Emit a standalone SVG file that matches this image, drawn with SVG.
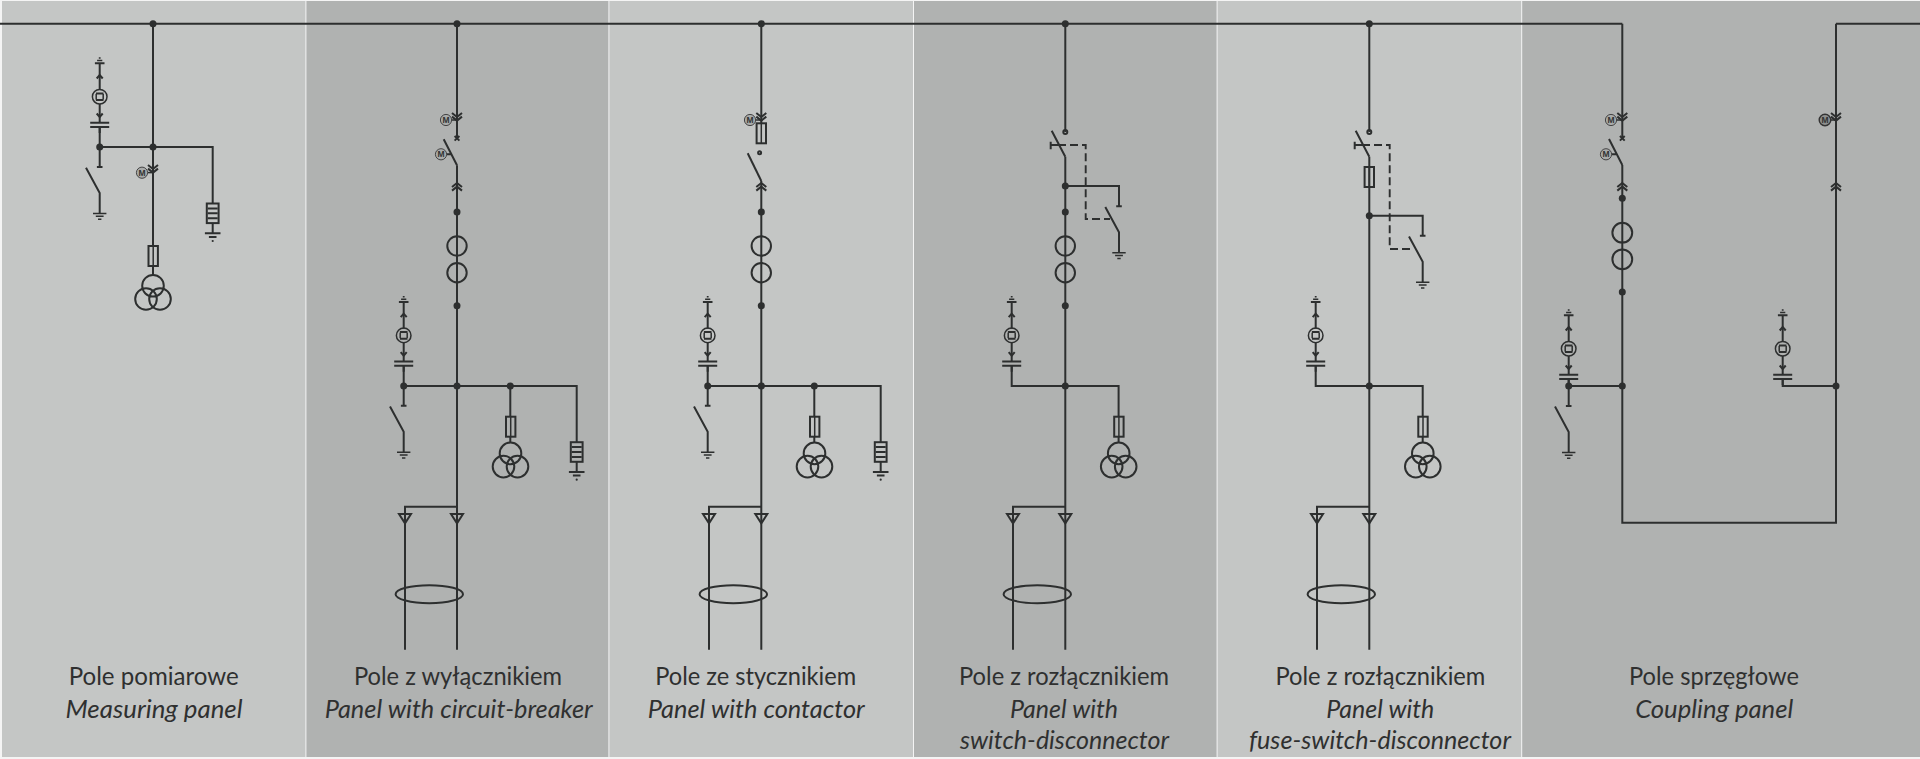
<svg xmlns="http://www.w3.org/2000/svg" width="1920" height="759" viewBox="0 0 1920 759">
<style>
.w{fill:none;stroke:#2d2f2f;stroke-width:2}
.t{fill:none;stroke:#2d2f2f;stroke-width:1.5}
.d{fill:#2d2f2f}
.dash{fill:none;stroke:#2d2f2f;stroke-width:1.9;stroke-dasharray:8 4}
.lbl{font-family:Lato,"Liberation Sans",sans-serif;font-size:24.5px;fill:#2f3030;text-anchor:middle}
.en{font-style:italic}
.m{font-family:"Liberation Sans",sans-serif;font-size:8.5px;font-weight:700;fill:#333;text-anchor:middle}
.ma{fill:#a9abaa;stroke:#444;stroke-width:1}
</style>
<defs>
<circle id="dot" class="d" r="3.5"/>
<g id="gnd" class="t"><path d="M-6.7 0H6.7M-3.9 2.8H3.9M-1.7 5.8H1.7"/></g>
<g id="indicator">
<path class="w" d="M0-63.7V-37M0-23V-4.3M0 0V6"/>
<path class="w" d="M-9.5-4.3H9.5M-9.5 0H9.5M-4.8-63.7H4.8"/>
<path class="t" d="M-2.6-66.4H2.6M-0.9-69H0.9"/>
<circle class="t" cy="-30.3" r="7.3"/>
<path class="w" d="M-3.8-33.6H3.8M-3.8-27H3.8"/>
<path class="t" d="M-3.5-33V-27.6M3.5-33V-27.6"/>
<path class="w" d="M-3-48.5 0-52 3-48.5M-3-13.5 0-10 3-13.5"/>
</g>
<g id="earth-switch">
<path class="w" d="M-2.8 0H2.8M-13.7 0.7 0 26V46.5"/>
<use href="#gnd" y="46.5"/>
</g>
<g id="arrester">
<rect class="w" x="-5.9" width="11.8" height="19.6"/>
<path class="w" d="M-5 4.9H5M-5 9.8H5M-5 14.7H5M0 19.6V29.7M-7.8 29.7H7.8M-3.8 33.4H3.8"/>
<circle class="d" cy="37.5" r="1.1"/>
</g>
<g id="transformer">
<circle class="w" cy="10.8" r="10.8"/>
<circle class="w" cx="-7" cy="24" r="10.8"/>
<circle class="w" cx="7" cy="24" r="10.8"/>
</g>
<g id="fuse"><rect class="w" x="-4.7" width="9.4" height="20"/><path class="t" d="M0 0V20"/></g>
<path id="chev-d" class="w" d="M-5 113 0 117 5 113M-5 116.6 0 120.6 5 116.6"/>
<path id="chev-u" class="w" d="M-5 187 0 183 5 187M-5 190.6 0 186.6 5 190.6"/>
<path id="cross" class="w" d="M-2.4 136 2.4 140.6M2.4 136-2.4 140.6"/>
<g id="motor"><circle class="ma" r="5.6"/><text class="m" y="3">M</text></g>
<g id="ct"><circle class="w" cy="246" r="9.7"/><circle class="w" cy="272.7" r="9.7"/></g>
<g id="cable-end"><path class="w" d="M-6 514H6L0 523.4Z"/></g>
<g id="load-break"><path class="w" d="M-13.6 130.7 0 156.7M-14.6 141.7V149.3"/><path class="w" d="M-14.6 145H-7"/><circle class="w" cy="132" r="2"/></g>
</defs>

<g id="background">
<rect width="1920" height="759" fill="#f4f4f4"/>
<rect x="2" y="1" width="303.4" height="756" fill="#c4c6c5"/>
<rect x="306.4" y="1" width="302" height="756" fill="#b0b2b1"/>
<rect x="609.4" y="1" width="303.6" height="756" fill="#c4c6c5"/>
<rect x="914" y="1" width="302.6" height="756" fill="#b0b2b1"/>
<rect x="1217.6" y="1" width="303.6" height="756" fill="#c4c6c5"/>
<rect x="1522.2" y="1" width="397.8" height="756" fill="#b0b2b1"/>
</g>

<g id="connectors">
<path class="w" d="M0 23.7H1622.3M1836 23.7H1920"/>
<path class="w" d="M153 23.7V245.7M153 266V275M99.7 147H212.7V203.5M99.7 127V167"/>
<path class="w" d="M457 23.7V138.3M457 165.3V649.7M403.7 386H576.7V442.2M403.7 365.7V405.7M510.3 386V416.7M510.3 436V442.6M457 506.7H405V649.7"/>
<path class="w" d="M761.3 23.7V123.3M761.3 181V649.7M707.7 386H880.7V442.2M707.7 365.7V405.7M814.3 386V416.7M814.3 436V442.6M761.3 506.7H709V649.7"/>
<path class="w" d="M1065.3 23.7V132M1065.3 156.7V649.7M1065.3 186H1119V206.3M1011.7 365.7V386H1118.6V416.7M1118.6 436V442.6M1065.3 506.7H1013V649.7"/>
<path class="dash" d="M1058 145H1085.7V219H1110"/>
<path class="w" d="M1369.3 23.7V132M1369.3 156.7V649.7M1369.3 215.7H1422.7V235.7M1315.7 365.7V386H1422.7V416.7M1422.7 436V442.6M1369.3 506.7H1317V649.7"/>
<path class="dash" d="M1362 145H1389.7V249H1414"/>
<path class="w" d="M1622.3 23.7V138.3M1622.3 165V522.7H1836V23.7M1568.7 379V405.9M1568.7 386H1622.3M1782.7 379V386H1836"/>
</g>

<g id="panel-1">
<use href="#dot" x="153" y="23.7"/><use href="#dot" x="153" y="147"/><use href="#dot" x="99.7" y="147"/>
<use href="#indicator" x="99.7" y="127"/>
<use href="#earth-switch" x="99.7" y="167"/>
<use href="#arrester" x="212.7" y="203.5"/>
<use href="#chev-d" x="153" y="52"/>
<path class="t" d="M147.6 172.6H153"/>
<use href="#motor" x="142" y="172.7"/>
<use href="#fuse" x="153.2" y="246"/>
<use href="#transformer" x="153" y="275"/>
<text class="lbl" x="153.7" y="685" textLength="170" lengthAdjust="spacingAndGlyphs">Pole pomiarowe</text>
<text class="lbl en" x="154" y="717.5" textLength="177" lengthAdjust="spacingAndGlyphs">Measuring panel</text>
</g>

<g id="panel-2">
<use href="#dot" x="457" y="23.7"/><use href="#dot" x="457" y="212"/><use href="#dot" x="457" y="305.7"/>
<use href="#dot" x="403.7" y="386"/><use href="#dot" x="457" y="386"/><use href="#dot" x="510.3" y="386"/>
<use href="#chev-d" x="457"/><use href="#cross" x="457"/><use href="#chev-u" x="457"/>
<path class="w" d="M443.7 139.3 457 165.3M446 154.3H452"/>
<path class="t" d="M451.6 120H457"/>
<use href="#motor" x="446" y="120"/><use href="#motor" x="441" y="154.3"/>
<use href="#ct" x="457"/>
<use href="#indicator" x="403.7" y="365.7"/>
<use href="#earth-switch" x="403.7" y="405.7"/>
<use href="#fuse" x="510.7" y="416.7"/>
<use href="#transformer" x="510.5" y="442.6"/>
<use href="#arrester" x="576.7" y="442.2"/>
<use href="#cable-end" x="405"/><use href="#cable-end" x="457"/>
<ellipse class="w" cx="429.3" cy="594.2" rx="33.7" ry="9"/>
<text class="lbl" x="458" y="685" textLength="208" lengthAdjust="spacingAndGlyphs">Pole z wyłącznikiem</text>
<text class="lbl en" x="458.7" y="717.5" textLength="268" lengthAdjust="spacingAndGlyphs">Panel with circuit-breaker</text>
</g>

<g id="panel-3">
<use href="#dot" x="761.3" y="23.7"/><use href="#dot" x="761.3" y="212"/><use href="#dot" x="761.3" y="305.7"/>
<use href="#dot" x="707.7" y="386"/><use href="#dot" x="761.3" y="386"/><use href="#dot" x="814.3" y="386"/>
<use href="#chev-d" x="761.3"/><use href="#chev-u" x="761.3"/>
<path class="t" d="M755.6 120H761.3"/>
<use href="#motor" x="750" y="120"/>
<use href="#fuse" x="761.3" y="123.3"/>
<circle class="w" cx="759.6" cy="152.7" r="1.5"/>
<path class="w" d="M747.7 153.3 761.3 181"/>
<use href="#ct" x="761.3"/>
<use href="#indicator" x="707.7" y="365.7"/>
<use href="#earth-switch" x="707.7" y="405.7"/>
<use href="#fuse" x="814.7" y="416.7"/>
<use href="#transformer" x="814.5" y="442.6"/>
<use href="#arrester" x="880.7" y="442.2"/>
<use href="#cable-end" x="709"/><use href="#cable-end" x="761.3"/>
<ellipse class="w" cx="733.3" cy="594.2" rx="33.7" ry="9"/>
<text class="lbl" x="755.7" y="685" textLength="201" lengthAdjust="spacingAndGlyphs">Pole ze stycznikiem</text>
<text class="lbl en" x="756.3" y="717.5" textLength="217" lengthAdjust="spacingAndGlyphs">Panel with contactor</text>
</g>

<g id="panel-4">
<use href="#dot" x="1065.3" y="23.7"/><use href="#dot" x="1065.3" y="186"/><use href="#dot" x="1065.3" y="212"/><use href="#dot" x="1065.3" y="305.7"/><use href="#dot" x="1065.3" y="386"/>
<use href="#load-break" x="1065.3"/>
<use href="#ct" x="1065.3"/>
<use href="#earth-switch" x="1119" y="206.3"/>
<use href="#indicator" x="1011.7" y="365.7"/>
<use href="#fuse" x="1118.9" y="416.7"/>
<use href="#transformer" x="1118.7" y="442.6"/>
<use href="#cable-end" x="1013"/><use href="#cable-end" x="1065.3"/>
<ellipse class="w" cx="1037.3" cy="594.2" rx="33.7" ry="9"/>
<text class="lbl" x="1064" y="685" textLength="210" lengthAdjust="spacingAndGlyphs">Pole z rozłącznikiem</text>
<text class="lbl en" x="1064" y="717.5" textLength="108" lengthAdjust="spacingAndGlyphs">Panel with</text>
<text class="lbl en" x="1064.5" y="749" textLength="209" lengthAdjust="spacingAndGlyphs">switch-disconnector</text>
</g>

<g id="panel-5">
<use href="#dot" x="1369.3" y="23.7"/><use href="#dot" x="1369.3" y="215.7"/><use href="#dot" x="1369.3" y="386"/>
<use href="#load-break" x="1369.3"/>
<use href="#fuse" x="1369.3" y="167"/>
<use href="#earth-switch" x="1422.7" y="235.7"/>
<use href="#indicator" x="1315.7" y="365.7"/>
<use href="#fuse" x="1423" y="416.7"/>
<use href="#transformer" x="1422.8" y="442.6"/>
<use href="#cable-end" x="1317"/><use href="#cable-end" x="1369.3"/>
<ellipse class="w" cx="1341.3" cy="594.2" rx="33.7" ry="9"/>
<text class="lbl" x="1380.4" y="685" textLength="210" lengthAdjust="spacingAndGlyphs">Pole z rozłącznikiem</text>
<text class="lbl en" x="1380.3" y="717.5" textLength="108" lengthAdjust="spacingAndGlyphs">Panel with</text>
<text class="lbl en" x="1380" y="749" textLength="262" lengthAdjust="spacingAndGlyphs">fuse-switch-disconnector</text>
</g>

<g id="panel-6">
<use href="#chev-d" x="1622.3"/><use href="#cross" x="1622.3"/><use href="#chev-u" x="1622.3"/>
<path class="w" d="M1609 139 1622.3 165M1610 154.3H1616"/>
<path class="t" d="M1616.6 120H1622.3"/>
<use href="#motor" x="1611" y="120"/><use href="#motor" x="1606" y="154.3"/>
<use href="#dot" x="1622.3" y="198.3"/><use href="#dot" x="1622.3" y="292"/>
<circle class="w" cx="1622.3" cy="232.7" r="9.9"/><circle class="w" cx="1622.3" cy="259.3" r="9.9"/>
<use href="#dot" x="1568.7" y="386"/><use href="#dot" x="1622.3" y="386"/><use href="#dot" x="1836" y="386"/>
<use href="#indicator" x="1568.7" y="379"/>
<use href="#earth-switch" x="1568.7" y="405.9"/>
<use href="#indicator" x="1782.7" y="379"/>
<use href="#chev-d" x="1836"/><use href="#chev-u" x="1836"/>
<path class="t" d="M1830 120H1836"/>
<circle cx="1825" cy="120" r="5.8" fill="#8d8f8e" stroke="#333" stroke-width="1.4"/><text class="m" x="1825" y="123">M</text>
<text class="lbl" x="1714" y="685" textLength="170" lengthAdjust="spacingAndGlyphs">Pole sprzęgłowe</text>
<text class="lbl en" x="1714.2" y="717.5" textLength="158" lengthAdjust="spacingAndGlyphs">Coupling panel</text>
</g>
</svg>
